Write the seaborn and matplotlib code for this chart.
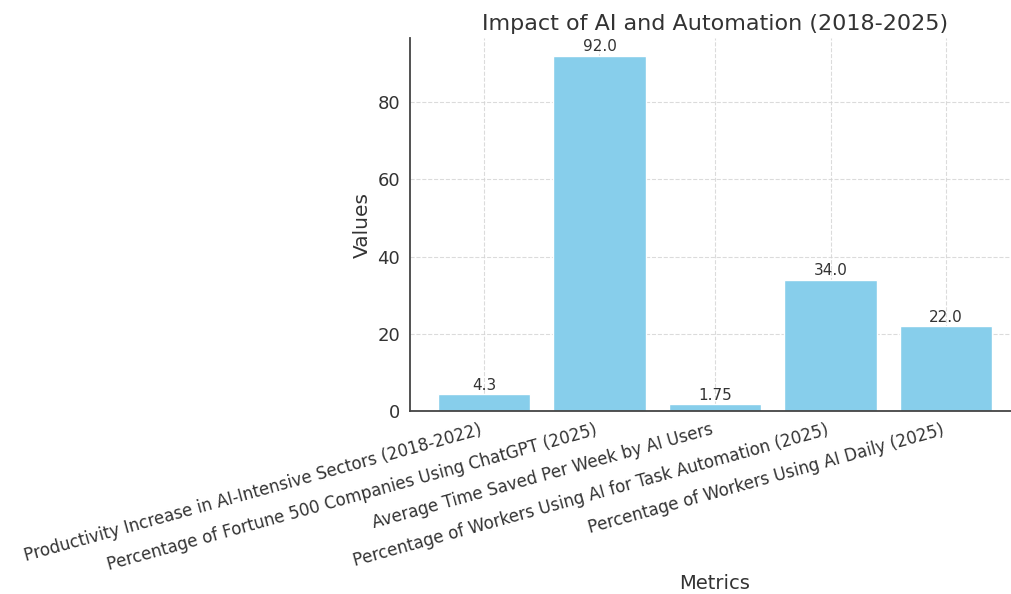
import matplotlib
matplotlib.use("Agg")
import matplotlib.pyplot as plt
import seaborn as sns

# Data
metrics = [
    "Productivity Increase in AI-Intensive Sectors (2018-2022)",
    "Percentage of Fortune 500 Companies Using ChatGPT (2025)",
    "Average Time Saved Per Week by AI Users",
    "Percentage of Workers Using AI for Task Automation (2025)",
    "Percentage of Workers Using AI Daily (2025)",
]
values = [4.3, 92.0, 1.75, 34.0, 22.0]

sns.set_style("white")
plt.rcParams["font.family"] = ["DejaVu Sans"]
text_color = "#333333"

fig = plt.figure(figsize=(10.11, 5.94), dpi=100)
ax = fig.add_axes([0.4055, 0.308, 0.6034, 0.628])

sns.barplot(x=metrics, y=values, color="skyblue", saturation=1, width=0.8, ax=ax, zorder=2)
ax.set_xlim(-0.64, 4.64)

# value labels above bars
ax.bar_label(ax.containers[0], labels=[str(v) for v in values],
             fontsize=11, color=text_color, padding=1)

ax.set_title("Impact of AI and Automation (2018-2025)", fontsize=16, color=text_color)
ax.set_xlabel("Metrics", fontsize=14, color=text_color, labelpad=0)
ax.set_ylabel("Values", fontsize=14.5, color=text_color)
ax.set_yticks([0, 20, 40, 60, 80])
ax.tick_params(axis="y", labelsize=13, colors=text_color)
ax.tick_params(axis="x", labelsize=12, colors=text_color)
plt.setp(ax.get_xticklabels(), rotation=15.5, ha="right")

ax.grid(True, linestyle="--", color="lightgray", linewidth=0.8, alpha=0.8, zorder=0)
ax.set_axisbelow(True)
sns.despine(ax=ax)
for s in ["left", "bottom"]:
    ax.spines[s].set_color("#444444")
    ax.spines[s].set_linewidth(1.3)

fig.savefig("out.png", dpi=100)
